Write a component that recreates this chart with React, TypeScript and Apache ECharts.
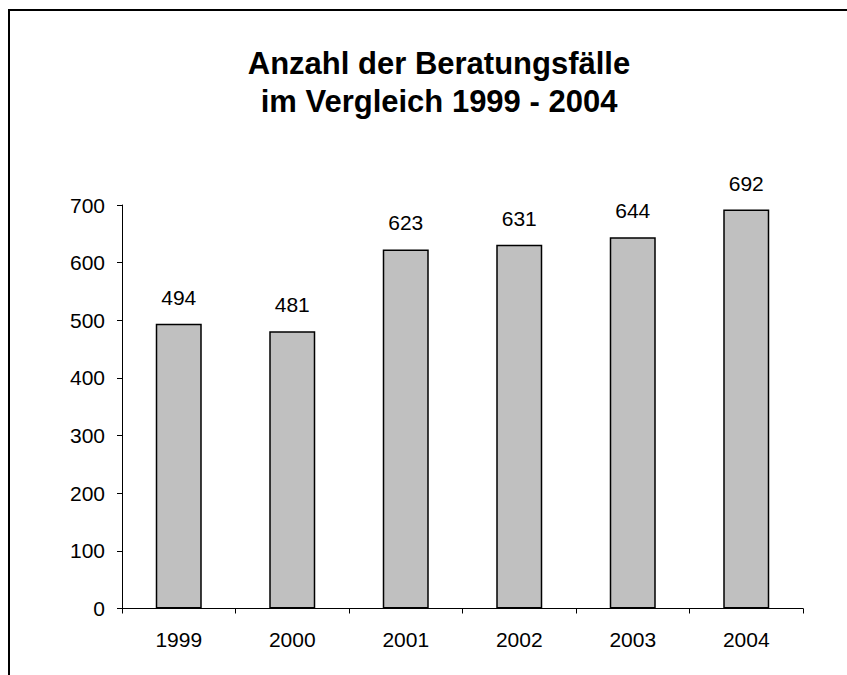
import React, { useEffect, useRef } from "react";
import * as echarts from "echarts";

const categories = ["1999", "2000", "2001", "2002", "2003", "2004"];
const values = [494, 481, 623, 631, 644, 692];
const titleText = "Anzahl der Beratungsfälle\nim Vergleich 1999 - 2004";

export default function App() {
  const ref = useRef<HTMLDivElement>(null);
  useEffect(() => {
    if (!ref.current) return;
    const chart = echarts.init(ref.current, null, { renderer: "svg" });
    const font = "Liberation Sans, Arial, sans-serif";
    chart.setOption({
      animation: false,
      backgroundColor: "#ffffff",
      title: {
        text: titleText,
        left: 434,
        top: 39,
        textAlign: "center",
        textStyle: {
          fontFamily: font,
          fontSize: 31,
          fontWeight: "bold",
          color: "#000",
          lineHeight: 38,
        },
      },
      graphic: [
        {
          type: "line",
          shape: { x1: 9, y1: 9, x2: 9, y2: 675 },
          style: { stroke: "#000", lineWidth: 2 },
          silent: true,
        },
        {
          type: "line",
          shape: { x1: 8, y1: 10, x2: 847, y2: 10 },
          style: { stroke: "#000", lineWidth: 2 },
          silent: true,
        },
      ],
      grid: { left: 122, right: 44, top: 205, bottom: 66.5 },
      xAxis: {
        type: "category",
        data: categories,
        axisLine: { lineStyle: { color: "#000", width: 1 } },
        axisTick: { show: true, length: 5, inside: false, lineStyle: { color: "#000" } },
        axisLabel: { fontFamily: font, fontSize: 21, color: "#000", margin: 20 },
        splitLine: { show: false },
      },
      yAxis: {
        type: "value",
        min: 0,
        max: 700,
        interval: 100,
        axisLine: { show: true, lineStyle: { color: "#000", width: 1 } },
        axisTick: { show: true, length: 5, lineStyle: { color: "#000" } },
        axisLabel: { fontFamily: font, fontSize: 21, color: "#000", margin: 17 },
        splitLine: { show: false },
      },
      series: [
        {
          type: "bar",
          data: values,
          barWidth: 46,
          itemStyle: { color: "#c0c0c0", borderColor: "#000", borderWidth: 1.5 },
          label: {
            show: true,
            position: "top",
            distance: 16,
            fontFamily: font,
            fontSize: 21,
            color: "#000",
          },
        },
      ],
    });
    return () => chart.dispose();
  }, []);
  return (
    <div
      ref={ref}
      style={{ position: "fixed", left: 0, top: 0, width: 847, height: 675 }}
    />
  );
}
